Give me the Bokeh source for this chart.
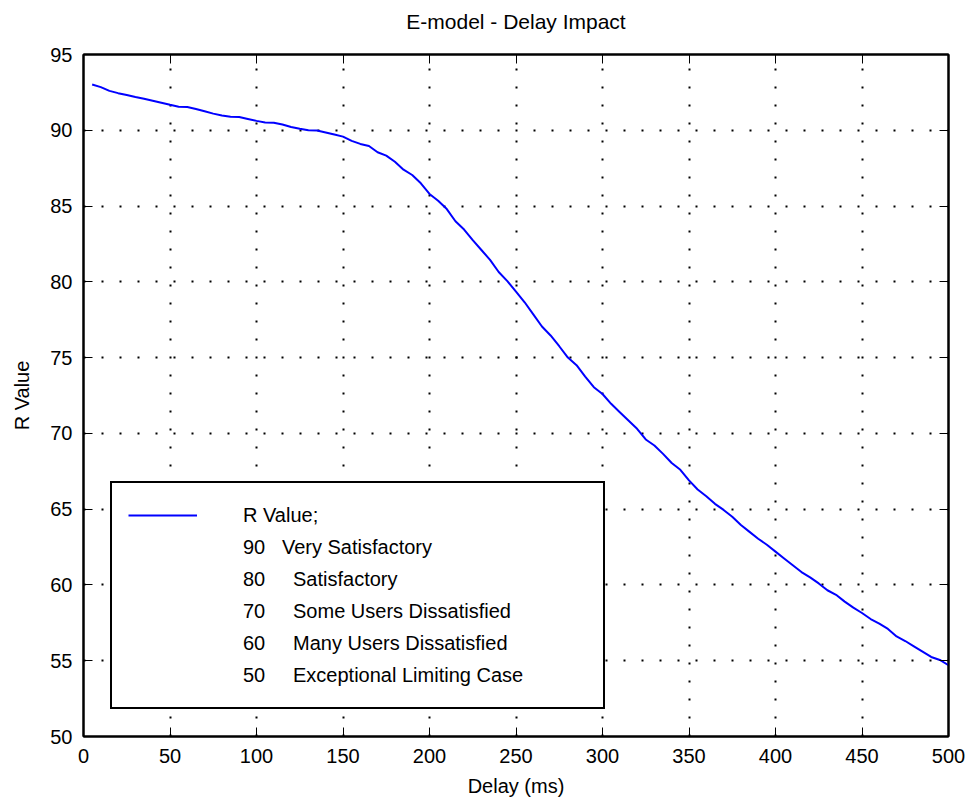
from bokeh.plotting import figure
from bokeh.models import (LinearAxis, FixedTicker, Legend, LegendItem, Range1d, Title,
                          CustomLabelingPolicy)
from bokeh.embed import file_html
from bokeh.resources import INLINE

# ---- data ----
delay_ms = [5, 10, 15, 20, 25, 30, 35, 40, 45, 50, 55, 60, 65, 70, 75, 80, 85, 90, 95, 100,
            105, 110, 115, 120, 125, 130, 135, 140, 145, 150, 155, 160, 165, 170, 175, 180, 185, 190, 195, 200,
            205, 210, 215, 220, 225, 230, 235, 240, 245, 250, 255, 260, 265, 270, 275, 280, 285, 290, 295, 300,
            305, 310, 315, 320, 325, 330, 335, 340, 345, 350, 355, 360, 365, 370, 375, 380, 385, 390, 395, 400,
            405, 410, 415, 420, 425, 430, 435, 440, 445, 450, 455, 460, 465, 470, 475, 480, 485, 490, 495, 500]
r_value = [93.02, 92.85, 92.6, 92.45, 92.33, 92.2, 92.08, 91.95, 91.82, 91.68,
           91.55, 91.53, 91.4, 91.25, 91.1, 90.98, 90.9, 90.88, 90.75, 90.62,
           90.52, 90.5, 90.38, 90.22, 90.1, 90.0, 89.98, 89.85, 89.72, 89.58,
           89.3, 89.1, 88.96, 88.55, 88.33, 87.92, 87.4, 87.05, 86.5, 85.8,
           85.35, 84.8, 84.0, 83.45, 82.75, 82.1, 81.45, 80.65, 80.05, 79.35,
           78.65, 77.85, 77.05, 76.46, 75.75, 75.0, 74.5, 73.75, 73.05, 72.6,
           71.95, 71.4, 70.85, 70.3, 69.6, 69.2, 68.65, 68.05, 67.6, 66.9,
           66.3, 65.85, 65.35, 64.95, 64.5, 63.95, 63.5, 63.05, 62.65, 62.2,
           61.75, 61.3, 60.85, 60.5, 60.1, 59.65, 59.35, 58.9, 58.5, 58.15,
           57.75, 57.45, 57.1, 56.6, 56.3, 55.95, 55.6, 55.25, 55.05, 54.7]
x_ticks = [0, 50, 100, 150, 200, 250, 300, 350, 400, 450, 500]
y_ticks = [50, 55, 60, 65, 70, 75, 80, 85, 90, 95]
title_text = "E-model - Delay Impact"
x_label = "Delay (ms)"
y_label = "R Value"
legend_lines = ["R Value;",
                "90\u00a0\u00a0\u00a0Very Satisfactory",
                "80\u00a0\u00a0\u00a0\u00a0\u00a0Satisfactory",
                "70\u00a0\u00a0\u00a0\u00a0\u00a0Some Users Dissatisfied",
                "60\u00a0\u00a0\u00a0\u00a0\u00a0Many Users Dissatisfied",
                "50\u00a0\u00a0\u00a0\u00a0\u00a0Exceptional Limiting Case"]

FONT = "Liberation Sans"

p = figure(width=973, height=805, output_backend="svg", toolbar_location=None, title=None,
           x_range=Range1d(0, 500), y_range=Range1d(50, 95),
           min_border_left=83, min_border_right=25, min_border_top=54, min_border_bottom=69,
           x_axis_label=x_label, y_axis_label=y_label)

p.outline_line_color = "black"
p.outline_line_width = 2
p.background_fill_color = "white"
p.border_fill_color = "white"

xt = FixedTicker(ticks=x_ticks)
yt = FixedTicker(ticks=y_ticks)

no_labels = CustomLabelingPolicy(code="return []")

def style_axis(ax, ticker, show_labels):
    ax.ticker = ticker
    ax.axis_line_color = "black"
    ax.axis_line_width = 2
    ax.major_tick_in = 9
    ax.major_tick_out = 0
    ax.major_tick_line_color = "black"
    ax.major_tick_line_width = 1
    ax.minor_tick_line_color = None
    ax.major_label_text_font = FONT
    ax.major_label_text_color = "black"
    ax.major_label_text_font_size = "20px"
    if not show_labels:
        ax.major_label_policy = no_labels
        ax.major_label_standoff = 0
    ax.axis_label_text_font = FONT
    ax.axis_label_text_font_size = "20px"
    ax.axis_label_text_font_style = "normal"
    ax.axis_label_text_color = "black"

style_axis(p.xaxis[0], xt, True)
style_axis(p.yaxis[0], yt, True)
p.xaxis[0].major_label_standoff = 12
p.xaxis[0].axis_label_standoff = 9
p.yaxis[0].major_label_standoff = 11
p.yaxis[0].axis_label_standoff = 14

ax_top = LinearAxis()
style_axis(ax_top, xt, False)
p.add_layout(ax_top, "above")
ax_right = LinearAxis()
style_axis(ax_right, yt, False)
p.add_layout(ax_right, "right")

title = Title(text=title_text, align="center", text_font=FONT, text_font_size="21px",
              text_font_style="normal", text_color="black", standoff=10)
p.add_layout(title, "above")

for g, t in ((p.xgrid[0], xt), (p.ygrid[0], yt)):
    g.ticker = t
    g.grid_line_color = "black"
    g.grid_line_width = 2
    g.grid_line_dash = "2 16"

line_r = p.line(delay_ms, r_value, line_color="#0000ff", line_width=2)
blank_r = p.line(x=[], y=[], line_alpha=0)

items = [LegendItem(label=legend_lines[0], renderers=[line_r])]
for txt in legend_lines[1:]:
    items.append(LegendItem(label=txt, renderers=[blank_r]))

legend = Legend(items=items, location=(27, 27))
legend.border_line_color = "black"
legend.border_line_alpha = 1
legend.border_line_width = 2
legend.background_fill_color = "white"
legend.background_fill_alpha = 1
legend.label_text_font = FONT
legend.label_text_font_size = "20px"
legend.label_text_color = "black"
legend.label_height = 32
legend.glyph_height = 32
legend.glyph_width = 69
legend.label_standoff = 46
legend.label_width = 344
legend.spacing = 0
legend.padding = 16
legend.margin = 0
p.add_layout(legend, "center")

open("out.html", "w").write(file_html(p, INLINE))
